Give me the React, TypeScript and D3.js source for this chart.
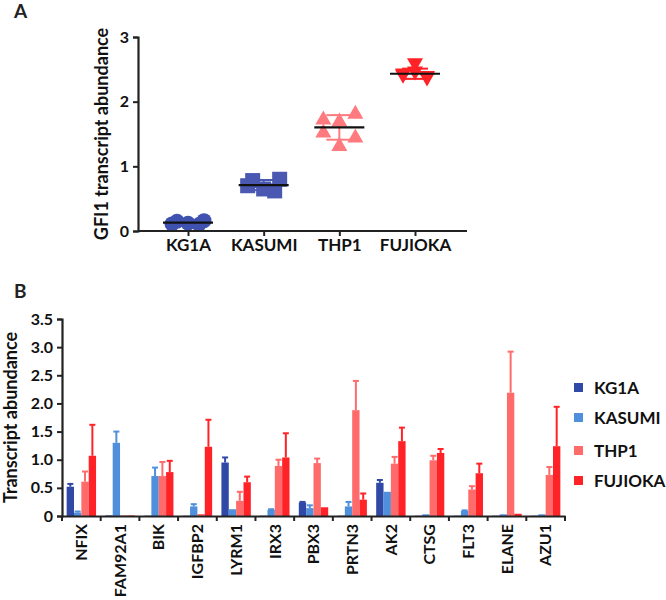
import * as d3 from "d3";
import { useEffect, useRef } from "react";

// panel A: GFI1 transcript abundance per cell line (individual replicates)
const cellLines = ["KG1A", "KASUMI", "THP1", "FUJIOKA"];
const kg1aGfi1 = [0.15, 0.12, 0.10, 0.11, 0.16];
const kasumiGfi1 = [0.78, 0.65, 0.62, 0.70, 0.80];
const thp1Gfi1 = [1.74, 1.71, 1.83, 1.54, 1.46, 1.33];
const fujiokaGfi1 = [2.40, 2.45, 2.38, 2.42, 2.36, 2.58];
const gfi1Ticks = [0, 1, 2, 3];

// panel B: gene panel, mean and error per cell line
const genes = ["NFIX", "FAM92A1", "BIK", "IGFBP2", "LYRM1", "IRX3", "PBX3", "PRTN3", "AK2", "CTSG", "FLT3", "ELANE", "AZU1"];
const kg1aMean = [0.52, 0.01, 0.005, 0.005, 0.95, 0.005, 0.24, 0.005, 0.59, 0.005, 0.005, 0.005, 0.005];
const kg1aErr = [0.05, 0, 0, 0, 0.09, 0, 0.01, 0, 0.05, 0, 0, 0, 0];
const kasumiMean = [0.06, 1.30, 0.71, 0.17, 0.12, 0.11, 0.14, 0.17, 0.43, 0.03, 0.09, 0.03, 0.03];
const kasumiErr = [0.02, 0.20, 0.15, 0.04, 0, 0.01, 0.05, 0.08, 0, 0, 0.01, 0, 0];
const thp1Mean = [0.61, 0.01, 0.71, 0.035, 0.27, 0.89, 0.94, 1.88, 0.93, 0.99, 0.47, 2.19, 0.73];
const thp1Err = [0.18, 0, 0.25, 0, 0.16, 0.11, 0.08, 0.52, 0.12, 0.08, 0.06, 0.73, 0.14];
const fujiokaMean = [1.07, 0.01, 0.78, 1.23, 0.60, 1.04, 0.155, 0.29, 1.33, 1.12, 0.76, 0.04, 1.24];
const fujiokaErr = [0.55, 0, 0.20, 0.48, 0.10, 0.43, 0, 0.11, 0.24, 0.07, 0.17, 0, 0.70];
const abundanceTicks = [0, 0.5, 1.0, 1.5, 2.0, 2.5, 3.0, 3.5];

const barColors = ["#3049a6", "#4f8fdb", "#ff6b6b", "#ff2227"];
const dotColors = ["#4052b0", "#4a58b2", "#ff7a7e", "#ff2227"];
const FONT = "Lato, 'Open Sans', sans-serif";
const swarm = [-1, 0, 1, -1, 1, 0];

const mean = (v: number[]) => d3.mean(v) as number;

export default function App() {
  const aAxisX = useRef<SVGGElement>(null);
  const aAxisY = useRef<SVGGElement>(null);
  const bAxisX = useRef<SVGGElement>(null);
  const bAxisY = useRef<SVGGElement>(null);

  // panel A scales
  const ax = d3.scalePoint().domain(cellLines).range([188, 415]);
  const ay = d3.scaleLinear().domain([0, 3]).range([231, 37]);
  const groupsA = [kg1aGfi1, kasumiGfi1, thp1Gfi1, fujiokaGfi1];

  // panel B scales
  const bx = d3.scaleBand().domain(genes).range([62, 565]).paddingInner(0).paddingOuter(0);
  const lines = d3.scaleBand().domain(cellLines).range([0, bx.bandwidth() * 0.76]);
  const by = d3.scaleLinear().domain([0, 3.5]).range([516, 319]);
  const means = [kg1aMean, kasumiMean, thp1Mean, fujiokaMean];
  const errs = [kg1aErr, kasumiErr, thp1Err, fujiokaErr];
  const groupOffset = (bx.bandwidth() - bx.bandwidth() * 0.76) / 2;

  useEffect(() => {
    const style = (g: d3.Selection<SVGGElement, unknown, null, undefined>) => {
      g.selectAll(".domain").attr("stroke", "#222").attr("stroke-width", 2.2);
      g.selectAll(".tick line").attr("stroke", "#222").attr("stroke-width", 2);
      g.selectAll("text").attr("font-family", FONT).attr("font-weight", 700).attr("fill", "#111");
    };
    if (aAxisY.current) {
      const g = d3.select(aAxisY.current);
      g.call(d3.axisLeft(ay).tickValues(gfi1Ticks).tickFormat(d3.format("d")).tickSizeOuter(0).tickSize(5).tickPadding(4));
      g.selectAll("text").attr("font-size", 16);
      style(g);
    }
    if (aAxisX.current) {
      const g = d3.select(aAxisX.current);
      g.call(d3.axisBottom(ax).tickSize(5).tickSizeOuter(0).tickPadding(3));
      g.select(".domain").attr("d", `M138,0H467`);
      g.selectAll("text").attr("font-size", 17);
      style(g);
    }
    if (bAxisY.current) {
      const g = d3.select(bAxisY.current);
      g.call(d3.axisLeft(by).tickValues(abundanceTicks).tickFormat((d) => (d === 0 ? "0" : d3.format(".1f")(d as number))).tickSizeOuter(0).tickSize(5).tickPadding(4));
      g.selectAll("text").attr("font-size", 16);
      style(g);
    }
    if (bAxisX.current) {
      const g = d3.select(bAxisX.current);
      g.call(d3.axisBottom(bx).tickSize(0).tickSizeOuter(0).tickPadding(0));
      g.selectAll(".tick text")
        .attr("transform", "rotate(-90)")
        .attr("text-anchor", "end")
        .attr("x", -8)
        .attr("y", 0)
        .attr("dy", "0.36em")
        .attr("font-size", 16);
      // boundary ticks between gene groups
      g.selectAll(".sep").data(d3.range(genes.length + 1)).join("line")
        .attr("class", "sep")
        .attr("x1", (i) => 62 + i * bx.step()).attr("x2", (i) => 62 + i * bx.step())
        .attr("y1", 0).attr("y2", 5)
        .attr("stroke", "#222").attr("stroke-width", 2);
      style(g);
    }
  }, []);

  return (
    <svg width={666} height={600} style={{ position: "absolute", left: 0, top: 0, background: "#fff" }} fontFamily={FONT}>
      {/* Panel A */}
      <text x={14} y={18} fontSize={19} fontWeight={700} fill="#222">A</text>
      <text transform={`translate(108, ${ay(1.5)}) rotate(-90)`} textAnchor="middle" fontSize={18} fontWeight={700} fill="#111">GFI1 transcript abundance</text>
      {groupsA.map((vals, gi) => {
        const cx = ax(cellLines[gi]) as number;
        const m = mean(vals);
        const sd = d3.deviation(vals) as number;
        const col = dotColors[gi];
        return (
          <g key={`a-${gi}`}>
            {/* SD whisker */}
            <line x1={cx} x2={cx} y1={ay(m - sd)} y2={ay(m + sd)} stroke={col} strokeWidth={2} />
            <line x1={cx - 13} x2={cx + 13} y1={ay(m + sd)} y2={ay(m + sd)} stroke={col} strokeWidth={2} />
            <line x1={cx - 13} x2={cx + 13} y1={ay(m - sd)} y2={ay(m - sd)} stroke={col} strokeWidth={2} />
            {vals.map((v, i) => {
              const x = cx + swarm[i % swarm.length] * (gi < 2 ? 11 : gi === 3 ? 12 : 16) + (gi < 2 && i >= 3 ? (i === 3 ? -5 : 5) : 0);
              const y = ay(v);
              if (gi === 0) return <circle key={i} cx={x} cy={y} r={7.5} fill={col} />;
              if (gi === 1) return <rect key={i} x={x - 7.5} y={y - 7.5} width={15} height={15} fill={col} />;
              if (gi === 2) return <path key={i} d={`M${x},${y - 8}L${x + 8},${y + 6}L${x - 8},${y + 6}Z`} fill={col} />;
              return <path key={i} d={`M${x},${y + 8}L${x + 8},${y - 6}L${x - 8},${y - 6}Z`} fill={col} />;
            })}
            <line x1={cx - 25} x2={cx + 25} y1={ay(m)} y2={ay(m)} stroke="#111" strokeWidth={2.2} />
          </g>
        );
      })}
      <g ref={aAxisY} transform="translate(138,0)" />
      <g ref={aAxisX} transform="translate(0,231)" />

      {/* Panel B */}
      <text x={14} y={298} fontSize={19} fontWeight={700} fill="#222">B</text>
      <text transform={`translate(17, ${by(1.75)}) rotate(-90)`} textAnchor="middle" fontSize={18} fontWeight={700} fill="#111">Transcript abundance</text>
      {cellLines.map((line, si) => (
        <g key={`b-${line}`}>
          {genes.map((gene, gi) => {
            const x = (bx(gene) as number) + groupOffset + (lines(line) as number);
            const w = lines.bandwidth();
            const v = means[si][gi];
            const e = errs[si][gi];
            const cx = x + w / 2;
            return (
              <g key={gene}>
                <rect x={x} y={by(v)} width={w} height={by(0) - by(v)} fill={barColors[si]} />
                {e > 0 && (
                  <g stroke={barColors[si]} strokeWidth={2}>
                    <line x1={cx} x2={cx} y1={by(v)} y2={by(v + e)} />
                    <line x1={cx - 3} x2={cx + 3} y1={by(v + e)} y2={by(v + e)} />
                  </g>
                )}
              </g>
            );
          })}
        </g>
      ))}
      <g ref={bAxisY} transform="translate(62,0)" />
      <g ref={bAxisX} transform="translate(0,516)" />

      {/* legend */}
      {cellLines.map((line, i) => {
        const ly = [388, 418, 451, 481][i];
        return (
          <g key={`lg-${line}`}>
            <rect x={574} y={ly - 5} width={9} height={9} fill={barColors[i]} />
            <text x={594} y={ly} dy="0.35em" fontSize={17} fontWeight={700} fill="#111">{line}</text>
          </g>
        );
      })}
    </svg>
  );
}
